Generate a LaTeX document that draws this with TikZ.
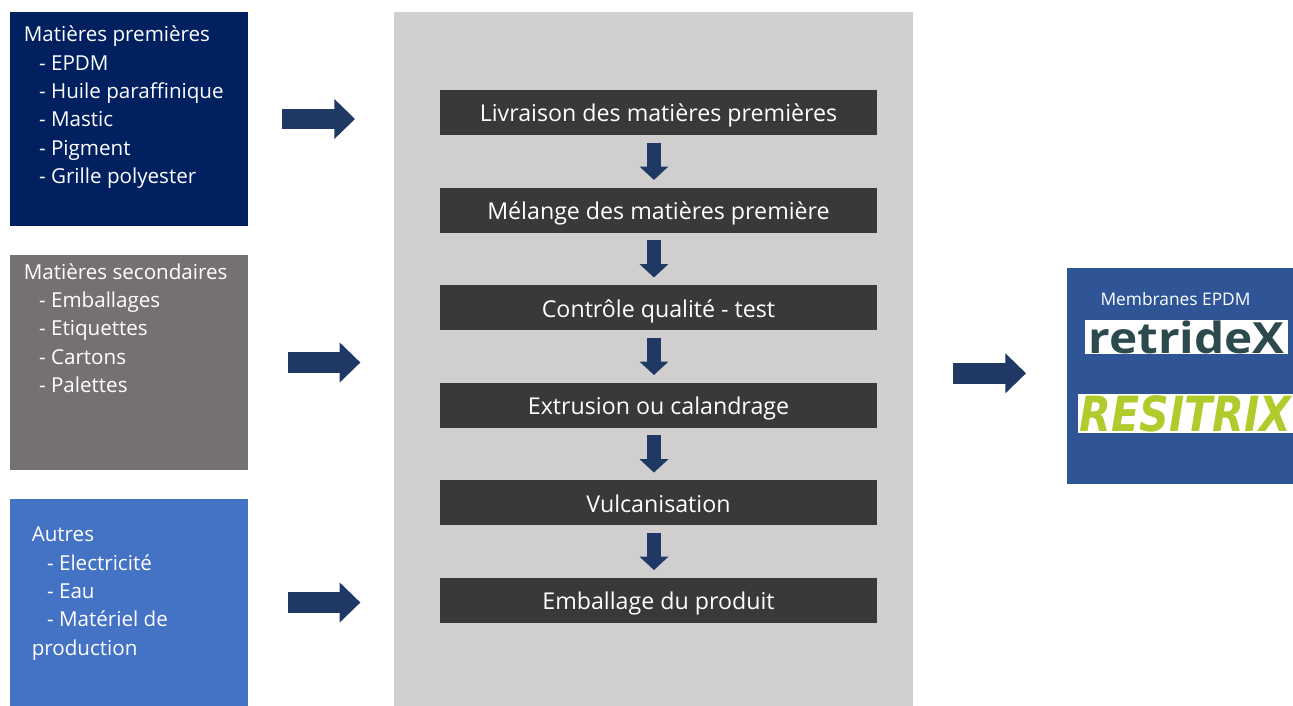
\documentclass[tikz,border=0pt]{standalone}
\usepackage{fontspec}
\setmainfont{Open Sans}
\usetikzlibrary{positioning,calc,arrows.meta}
\definecolor{navybox}{HTML}{002060}
\definecolor{greybox}{HTML}{767171}
\definecolor{bluebox}{HTML}{4472C4}
\definecolor{outbox}{HTML}{2F5597}
\definecolor{panelgrey}{HTML}{D0CECE}
\definecolor{stepgrey}{HTML}{3B3838}
\definecolor{arrowblue}{HTML}{1F3864}
\definecolor{retrideteal}{HTML}{2C4A4E}
\definecolor{resitrixlime}{HTML}{B0CB2C}
\tikzset{
  block/.style     = {inner sep=0pt, minimum width=238.5*.75pt},
  panel/.style     = {inner sep=0pt, fill=panelgrey, minimum width=519*.75pt, minimum height=694*.75pt},
  stepbox/.style   = {inner sep=0pt, fill=stepgrey, text=white, minimum width=437*.75pt,
                      minimum height=45*.75pt, text height=15.7pt, text depth=1.5pt,
                      font=\fontsize{17.4}{20}\selectfont},
  listtext/.style  = {inner sep=0pt, text=white, align=left, anchor=north west,
                      font=\fontsize{15.45}{21.35}\selectfont},
  logobox/.style   = {inner sep=0pt, fill=white},
  bigarrow/.style  = {draw=arrowblue, line width=15.5pt, -{Triangle[width=29pt,length=15.5pt]}},
  downarrow/.style = {draw=arrowblue, line width=11pt, -{Triangle[width=21pt,length=10pt]},
                      shorten <=5.5pt, shorten >=5.5pt}
}
\newcommand{\DrawLogo}[6]{%
  % white strip with the brand name stretched over it
  \node[logobox, minimum width=#3*.75pt, minimum height=#4*.75pt] (#1) at #2 {};
  \node[inner sep=0pt] (#1text) at (#1) {#5{#6}};
}
\begin{document}
\begin{tikzpicture}[x=.75pt,y=-.75pt]
    \useasboundingbox (0,0) rectangle (1293,706);

    % input blocks
    \node[block, fill=navybox, minimum height=214*.75pt] (premieres) at (129,119) {};
    \node[block, fill=greybox, minimum height=215*.75pt] (secondaires) at (129,362.5) {};
    \node[block, fill=bluebox, minimum height=207*.75pt] (autres) at (129,602.5) {};

    \node[listtext] (premierestext) at (23.5,25.5) {Matières premières\\
      \hspace{11.5pt}- EPDM\\
      \hspace{11.5pt}- Huile paraffinique\\
      \hspace{11.5pt}- Mastic\\
      \hspace{11.5pt}- Pigment\\
      \hspace{11.5pt}- Grille polyester};
    \node[listtext] (secondairestext) at (23.5,263) {Matières secondaires\\
      \hspace{11.5pt}- Emballages\\
      \hspace{11.5pt}- Etiquettes\\
      \hspace{11.5pt}- Cartons\\
      \hspace{11.5pt}- Palettes};
    \node[listtext] (autrestext) at (31.5,526.5) {Autres\\
      \hspace{11.5pt}- Electricité\\
      \hspace{11.5pt}- Eau\\
      \hspace{11.5pt}- Matériel de\\
      production};

    % process
    \node[panel] (process) at (653.5,359) {};
    \node[stepbox] (livraison) at (658.5,112.5) {Livraison des matières premières};
    \node[stepbox, below=39pt of livraison] (melange) {Mélange des matières première};
    \node[stepbox, below=39pt of melange] (controle) {Contrôle qualité - test};
    \node[stepbox, below=39pt of controle] (extrusion) {Extrusion ou calandrage};
    \node[stepbox, below=39pt of extrusion] (vulcanisation) {Vulcanisation};
    \node[stepbox, below=39pt of vulcanisation] (emballage) {Emballage du produit};

    \draw[downarrow] ([xshift=-3.4pt]livraison.south) -- ([xshift=-3.4pt]melange.north);
    \draw[downarrow] ([xshift=-3.4pt]melange.south) -- ([xshift=-3.4pt]controle.north);
    \draw[downarrow] ([xshift=-3.4pt]controle.south) -- ([xshift=-3.4pt]extrusion.north);
    \draw[downarrow] ([xshift=-3.4pt]extrusion.south) -- ([xshift=-3.4pt]vulcanisation.north);
    \draw[downarrow] ([xshift=-3.4pt]vulcanisation.south) -- ([xshift=-3.4pt]emballage.north);

    % output
    \node[block, fill=outbox, minimum width=226*.75pt, minimum height=216*.75pt] (membranes) at (1180,376) {};
    \node[inner sep=0pt, text=white, font=\fontsize{13}{16}\selectfont] (membranestext) at (1175.5,299) {Membranes EPDM};
    \DrawLogo{retridex}{(1186.5,337)}{203}{34}{\resizebox{147pt}{24.5pt}}
      {\color{retrideteal}\bfseries retrideX}
    \DrawLogo{resitrix}{(1185.5,413.5)}{215}{39}{\resizebox{159pt}{27pt}}
      {\color{resitrixlime}\fontspec{DejaVu Sans}\bfseries\itshape RESITRIX}

    \draw[bigarrow, shorten <=25pt, shorten >=29pt] (premieres.east) -- (premieres.east -| process.west);
    \draw[bigarrow, shorten <=29.5pt, shorten >=25pt] (secondaires.east) -- (secondaires.east -| process.west);
    \draw[bigarrow, shorten <=29.5pt, shorten >=25pt] (autres.east) -- (autres.east -| process.west);
    \draw[bigarrow, shorten <=30pt, shorten >=30.5pt] ([yshift=2pt]process.east |- membranes.west) -- ([yshift=2pt]membranes.west);
\end{tikzpicture}
\end{document}
